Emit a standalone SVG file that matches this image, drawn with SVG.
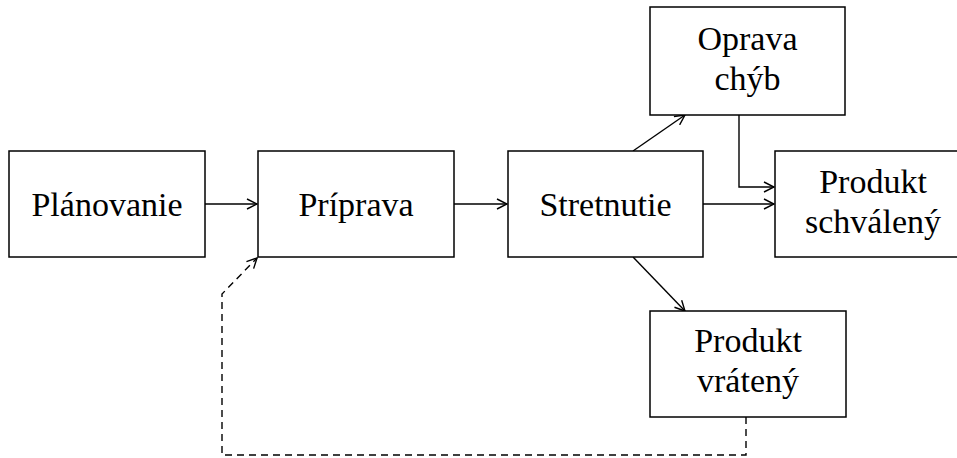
<svg xmlns="http://www.w3.org/2000/svg" width="957" height="458" viewBox="0 0 957 458">
<style>
.box{fill:#fff;stroke:#000;stroke-width:1.5}
.t{font-family:"Liberation Serif","Times New Roman",serif;font-size:34px;fill:#000;text-anchor:middle}
.c{fill:none;stroke:#000;stroke-width:1.4}
.d{stroke-dasharray:7 5}
</style>
<defs>
<marker id="a" viewBox="0 0 12 12" refX="11" refY="6" markerWidth="12" markerHeight="12" markerUnits="userSpaceOnUse" orient="auto">
<path d="M1,1 L11,6 L1,11" fill="none" stroke="#000" stroke-width="1.4"/>
</marker>
</defs>
<rect width="957" height="458" fill="#fff"/>
<g id="connectors">
<line class="c" x1="205" y1="204" x2="257" y2="204" marker-end="url(#a)"/>
<line class="c" x1="454" y1="204" x2="507" y2="204" marker-end="url(#a)"/>
<line class="c" x1="703" y1="204" x2="774" y2="204" marker-end="url(#a)"/>
<polyline class="c" points="739,115 739,187 774,187" marker-end="url(#a)"/>
<line class="c" x1="633" y1="151" x2="685" y2="115" marker-end="url(#a)"/>
<line class="c" x1="633" y1="257" x2="685" y2="311" marker-end="url(#a)"/>
<polyline class="c d" points="746,417 746,455 222,455 222,294 257,258" marker-end="url(#a)"/>
</g>
<g id="planovanie"><rect class="box" x="9" y="151" width="196" height="106"/><text class="t" x="107" y="216">Plánovanie</text></g>
<g id="priprava"><rect class="box" x="258" y="151" width="196" height="106"/><text class="t" x="356" y="216">Príprava</text></g>
<g id="stretnutie"><rect class="box" x="508" y="151" width="195" height="106"/><text class="t" x="605.5" y="216">Stretnutie</text></g>
<g id="oprava"><rect class="box" x="650" y="7" width="195" height="108"/><text class="t" x="747.5" y="50">Oprava</text><text class="t" x="747.5" y="90">chýb</text></g>
<g id="schvaleny"><rect class="box" x="775" y="151" width="196" height="106"/><text class="t" x="873" y="193">Produkt</text><text class="t" x="873" y="233">schválený</text></g>
<g id="vrateny"><rect class="box" x="650" y="311" width="196" height="106"/><text class="t" x="748" y="352">Produkt</text><text class="t" x="748" y="392">vrátený</text></g>
</svg>
